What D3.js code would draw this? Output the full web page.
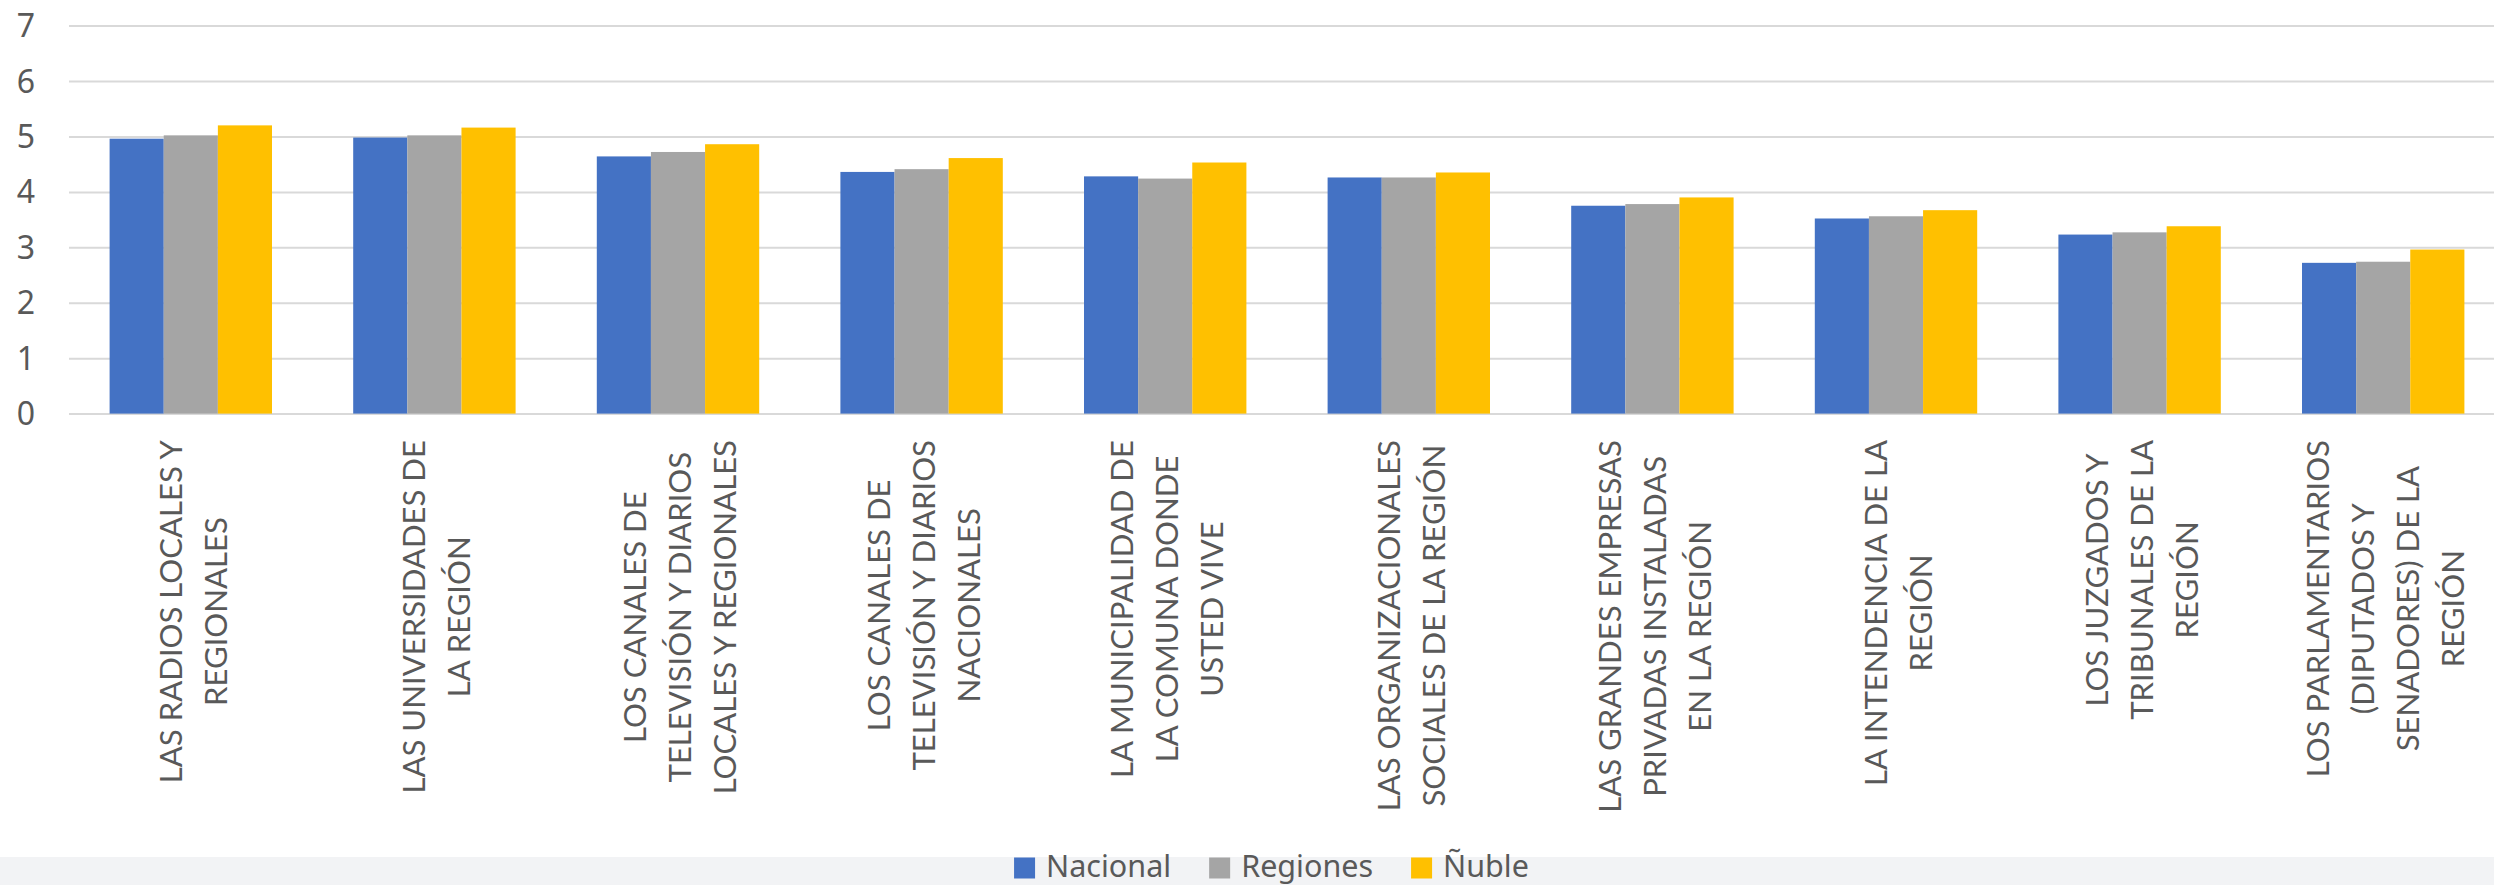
<!DOCTYPE html>
<html>
<head>
<meta charset="utf-8">
<script src="https://cdn.jsdelivr.net/npm/d3@7"></script>
<style>
  html, body { margin: 0; padding: 0; background: #ffffff; }
  svg { display: block; }
</style>
</head>
<body>
<svg id="chart" width="2494" height="885"></svg>
<script>
// ---------- data ----------
const categories = [
  "LAS RADIOS LOCALES Y\nREGIONALES",
  "LAS UNIVERSIDADES DE\nLA REGIÓN",
  "LOS CANALES DE\nTELEVISIÓN Y DIARIOS\nLOCALES Y REGIONALES",
  "LOS CANALES DE\nTELEVISIÓN Y DIARIOS\nNACIONALES",
  "LA MUNICIPALIDAD DE\nLA COMUNA DONDE\nUSTED VIVE",
  "LAS ORGANIZACIONALES\nSOCIALES DE LA REGIÓN",
  "LAS GRANDES EMPRESAS\nPRIVADAS INSTALADAS\nEN LA REGIÓN",
  "LA INTENDENCIA DE LA\nREGIÓN",
  "LOS JUZGADOS Y\nTRIBUNALES DE LA\nREGIÓN",
  "LOS PARLAMENTARIOS\n(DIPUTADOS Y\nSENADORES) DE LA\nREGIÓN"
];
const seriesNames = ["Nacional", "Regiones", "Ñuble"];
const nacional = [4.96, 4.98, 4.64, 4.36, 4.28, 4.26, 3.75, 3.52, 3.23, 2.72];
const regiones = [5.02, 5.02, 4.72, 4.41, 4.24, 4.26, 3.78, 3.56, 3.27, 2.74];
const nuble    = [5.20, 5.16, 4.86, 4.61, 4.53, 4.35, 3.90, 3.67, 3.38, 2.96];
const yTicks = [0, 1, 2, 3, 4, 5, 6, 7];
const colors = ["#4472c4", "#a5a5a5", "#ffc000"];

const seriesValues = [nacional, regiones, nuble];

// ---------- layout ----------
const W = 2494, H = 885;
const plotLeft = 69, plotRight = 2505, plotTop = 25.6, plotBottom = 413.6;
const svg = d3.select("#chart");

svg.append("rect").attr("x", 0).attr("y", 0).attr("width", W).attr("height", H).attr("fill", "#ffffff");
svg.append("rect").attr("x", 0).attr("y", 857).attr("width", W).attr("height", H - 857).attr("fill", "#f2f3f5");

const x0 = d3.scaleBand().domain(d3.range(categories.length))
  .range([plotLeft, plotRight]).paddingInner(1 / 3).paddingOuter(1 / 6);
const x1 = d3.scaleBand().domain(d3.range(seriesNames.length))
  .range([0, x0.bandwidth()]).padding(0);
const y = d3.scaleLinear().domain([0, 7]).range([plotBottom, plotTop]);

// gridlines
const yAxis = d3.axisLeft(y).tickValues(yTicks).tickSize(-(plotRight - plotLeft)).tickFormat("");
const gGrid = svg.append("g").attr("transform", `translate(${plotLeft},0)`).call(yAxis);
gGrid.select(".domain").remove();
gGrid.selectAll(".tick line").attr("stroke", "#d9d9d9").attr("stroke-width", 2);

// y tick labels
svg.append("g").selectAll("text").data(yTicks).join("text")
  .attr("x", 35).attr("y", d => y(d) + 11.5)
  .attr("text-anchor", "end")
  .attr("font-family", "'Noto Sans', 'Open Sans', sans-serif")
  .attr("font-size", 32)
  .attr("fill", "#595959")
  .text(d => d);

// bars
const groups = svg.append("g").selectAll("g").data(categories.map((c, i) => i)).join("g")
  .attr("transform", i => `translate(${x0(i)},0)`);
groups.selectAll("rect").data(i => seriesValues.map((s, k) => ({k, v: s[i]}))).join("rect")
  .attr("x", d => x1(d.k))
  .attr("width", x1.bandwidth())
  .attr("y", d => y(d.v))
  .attr("height", d => y(0) - y(d.v))
  .attr("fill", d => colors[d.k]);

// category labels (rotated, multi-line, centered)
const labelFont = "Lato, 'Open Sans', sans-serif";
// calibrate font size so long lines span about as much as in the reference
const probe = svg.append("text").attr("font-family", labelFont).attr("font-size", 32)
  .text("LAS RADIOS LOCALES Y");
const probeLen = probe.node().getComputedTextLength();
probe.text("LAS ORGANIZACIONALES");
const probeLen2 = probe.node().getComputedTextLength();
probe.remove();
const labelSize = 32 * ((343 / probeLen + 372 / probeLen2) / 2);

const lineGap = 45;
const labelTop = 440;
const capShift = labelSize * 0.36;
const labG = svg.append("g");
categories.forEach((c, i) => {
  const lines = c.split("\n");
  const cx = x0(i) + x0.bandwidth() / 2 + 2;
  const n = lines.length;
  const texts = lines.map(ln => labG.append("text")
      .attr("font-family", labelFont)
      .attr("font-size", labelSize)
      .attr("fill", "#595959")
      .attr("text-anchor", "middle")
      .text(ln));
  const maxLen = d3.max(texts, t => t.node().getComputedTextLength());
  const cy = labelTop + maxLen / 2;
  texts.forEach((t, j) => {
    const lx = cx + (j - (n - 1) / 2) * lineGap + capShift;
    t.attr("transform", `translate(${lx},${cy}) rotate(-90)`);
  });
});

// legend
const legG = svg.append("g");
const items = seriesNames.map((name, k) => {
  const g = legG.append("g");
  g.append("rect").attr("x", 0).attr("y", 857.5).attr("width", 21).attr("height", 21).attr("fill", colors[k]);
  const t = g.append("text").attr("x", 32).attr("y", 877)
    .attr("font-family", "'Noto Sans', 'Open Sans', sans-serif")
    .attr("font-size", 30.5)
    .attr("fill", "#595959")
    .text(name);
  return {g, w: 32 + t.node().getComputedTextLength()};
});
const itemGap = 38;
const totalW = d3.sum(items, d => d.w) + itemGap * (items.length - 1);
let lx = 1271.5 - totalW / 2;
items.forEach(it => { it.g.attr("transform", `translate(${lx},0)`); lx += it.w + itemGap; });
</script>
</body>
</html>
